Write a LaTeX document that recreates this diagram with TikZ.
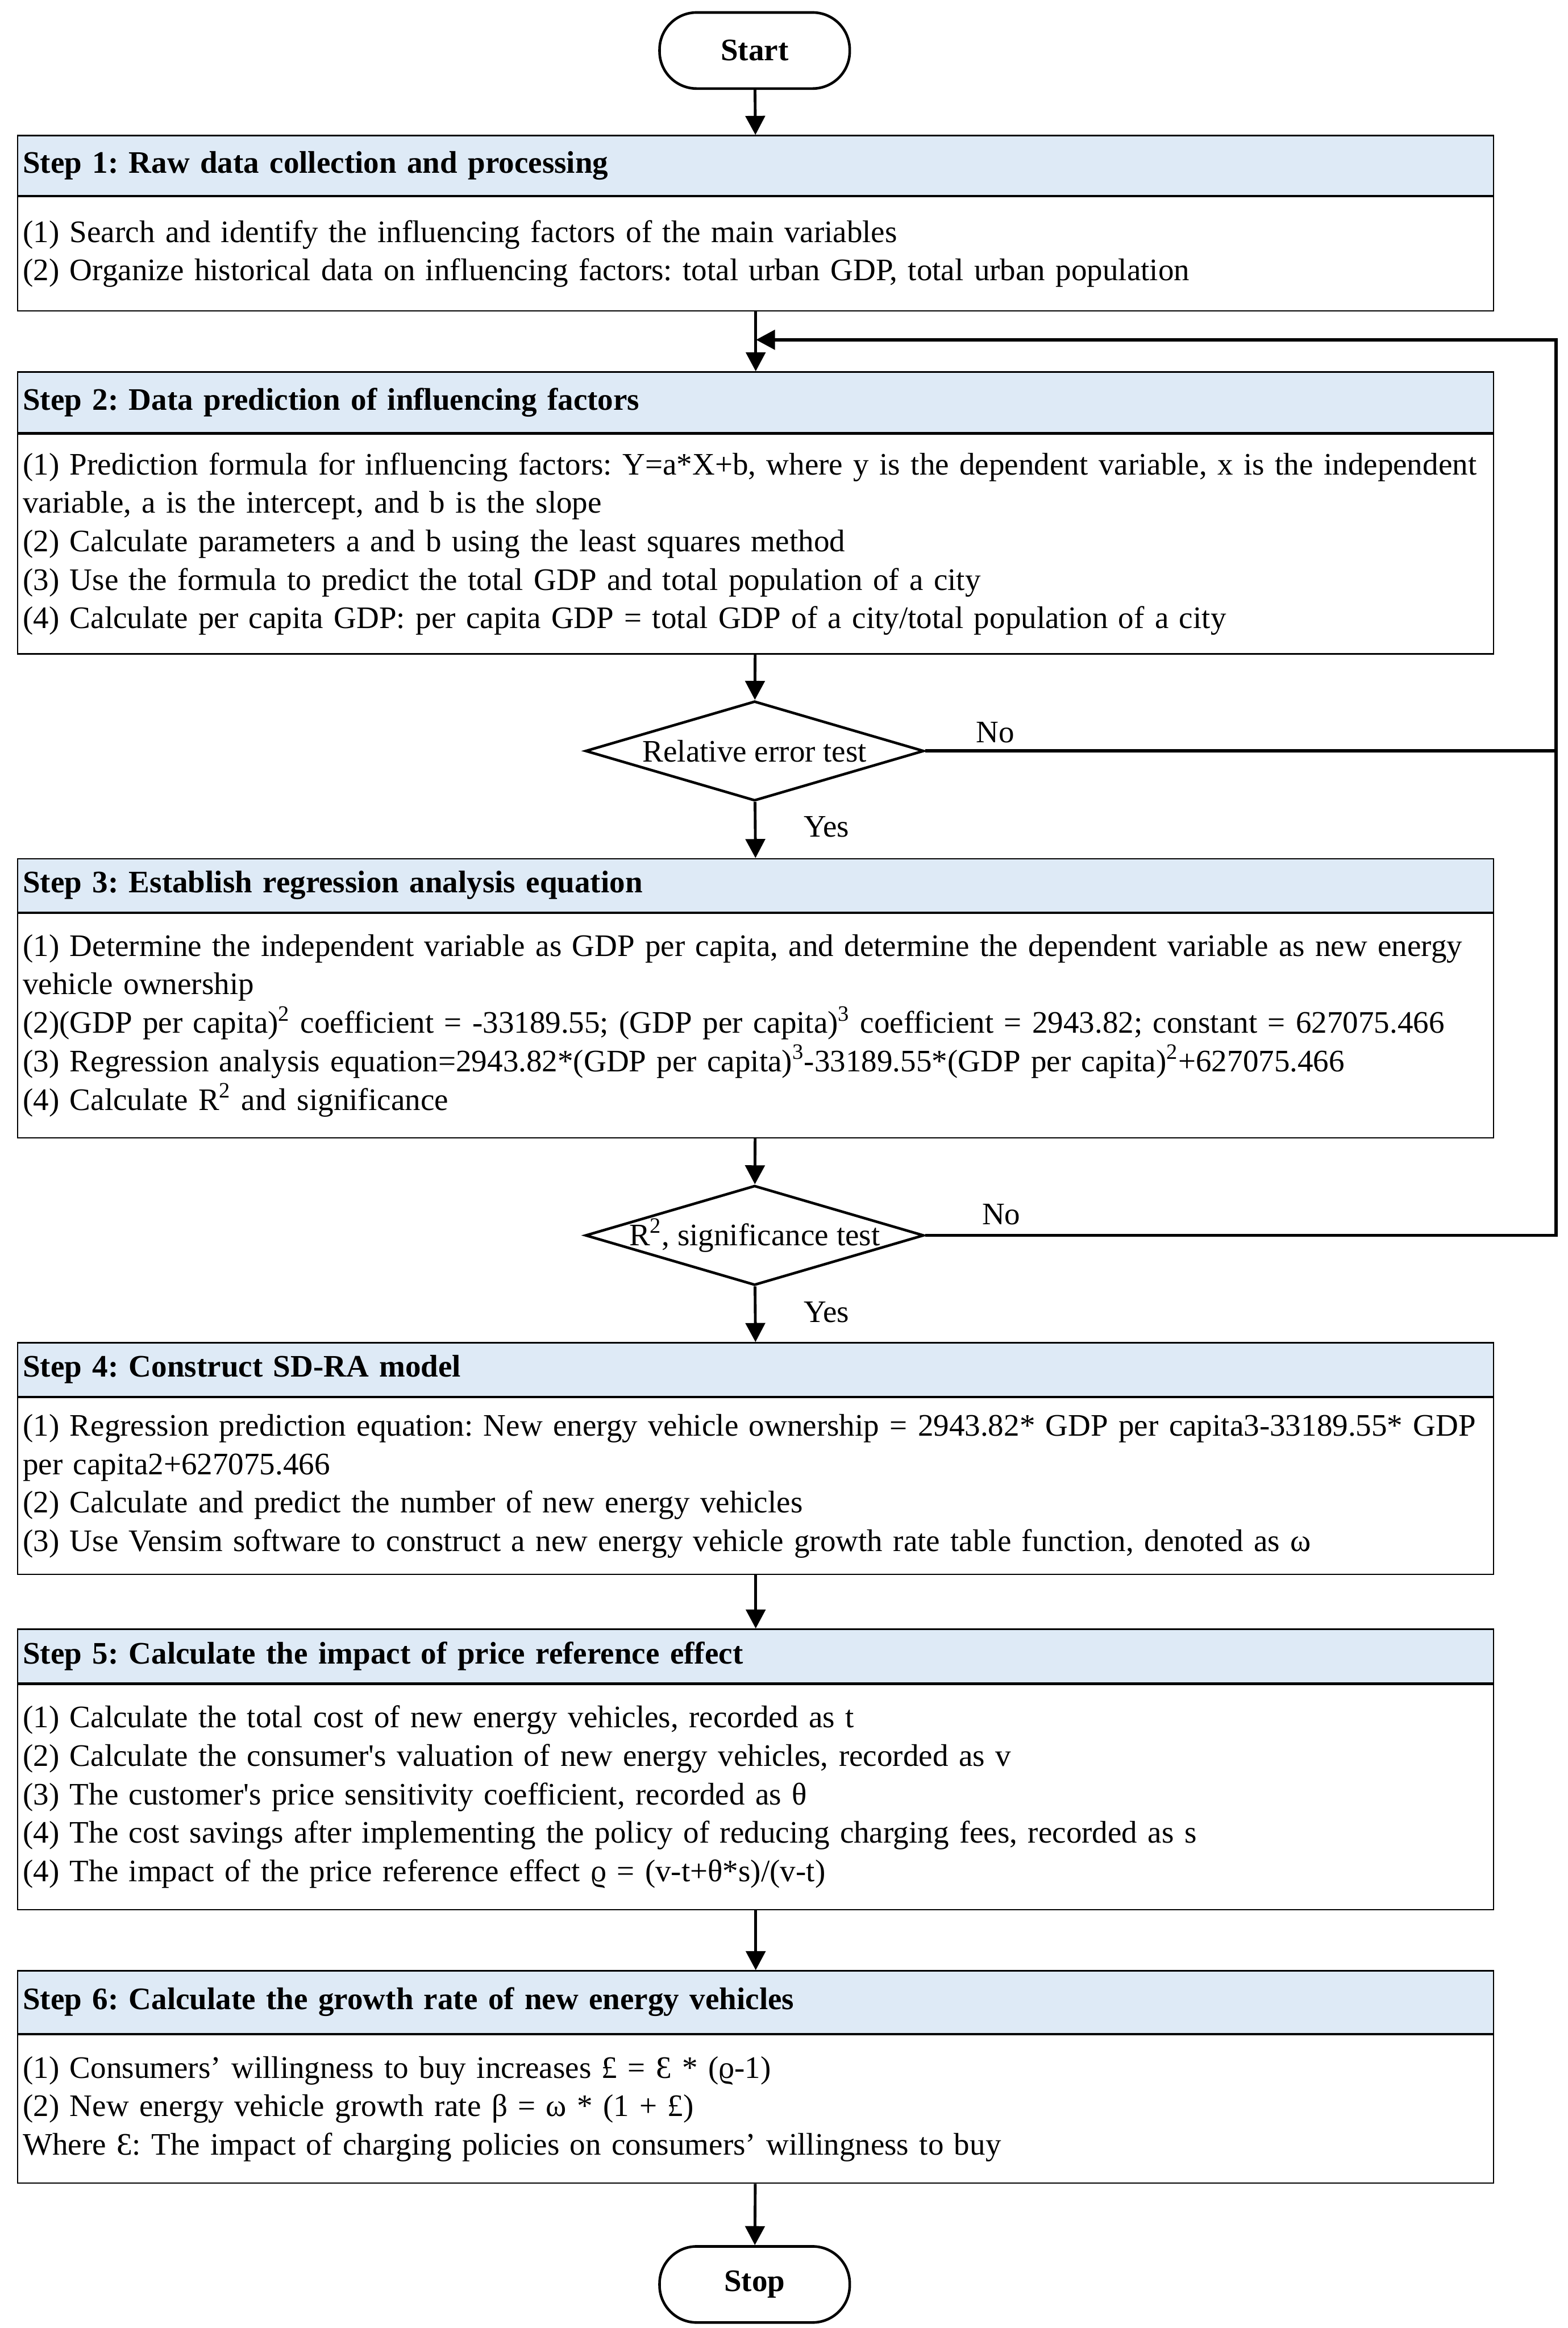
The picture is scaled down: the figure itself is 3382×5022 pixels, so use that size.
\documentclass[tikz,border=0pt]{standalone}
\usepackage{fontspec}
\setmainfont{Liberation Serif}
\usetikzlibrary{shapes.geometric,arrows.meta,positioning}
\definecolor{headblue}{HTML}{DEEAF6}
\newcommand{\txt}{\fontsize{19.2pt}{23.6pt}\selectfont\frenchspacing\hyphenpenalty=10000 }
\tikzset{
  head/.style={draw, fill=headblue, line width=0.8pt, anchor=north west,
    text width=31.6cm, inner xsep=0.11cm, inner ysep=0pt, align=left, font=\txt\bfseries},
  body/.style={draw, line width=0.8pt, anchor=north west,
    text width=31.6cm, inner xsep=0.11cm, inner ysep=0pt, align=left, font=\txt},
  term/.style={draw, line width=1.6pt, rounded corners=0.8cm, minimum width=4.1cm,
    minimum height=1.64cm, font=\txt\bfseries},
  test/.style={draw, diamond, line width=1.6pt, minimum width=7.3cm,
    minimum height=2.15cm, inner sep=0pt, font=\txt},
  every label/.style={font=\txt},
  lbl/.style={anchor=base west, inner sep=0pt, font=\txt},
  flow/.style={line width=1.7pt, ->},
  loop/.style={line width=2pt},
}
\begin{document}
\begin{tikzpicture}[>={Triangle[length=0.41cm,width=0.42cm]}, x=0.01cm, y=-0.01cm]
    \useasboundingbox (0,0) rectangle (3382,5022);

    % Start
    \node[term] (start) at (1628,109) {Start};

    % Step 1
    \node[head, minimum height=1.29cm] (h1) at (37,291) {Step 1: Raw data collection and processing};
    \node[body, minimum height=2.46cm] (b1) at (h1.south west) {(1) Search and identify the influencing factors of the main variables\\
        (2) Organize historical data on influencing factors: total urban GDP, total urban population};

    % Step 2
    \node[head, minimum height=1.31cm] (h2) at (37,801) {Step 2: Data prediction of influencing factors};
    \node[body, minimum height=4.74cm] (b2) at (h2.south west) {(1) Prediction formula for influencing factors: Y=a*X+b, where y is the dependent variable, x is the independent\\
        variable, a is the intercept, and b is the slope\\
        (2) Calculate parameters a and b using the least squares method\\
        (3) Use the formula to predict the total GDP and total population of a city\\
        (4) Calculate per capita GDP: per capita GDP = total GDP of a city/total population of a city};

    % Test 1
    \node[test, label={center:Relative error test}] (d1) at (1628,1620) {};

    % Step 3
    \node[head, minimum height=1.15cm] (h3) at (37,1851) {Step 3: Establish regression analysis equation};
    \node[body, minimum height=4.84cm] (b3) at (h3.south west) {(1) Determine the independent variable as GDP per capita, and determine the dependent variable as new energy\\
        vehicle ownership\\
        (2)(GDP per capita)\textsuperscript{2} coefficient = -33189.55; (GDP per capita)\textsuperscript{3} coefficient = 2943.82; constant = 627075.466\\
        (3) Regression analysis equation=2943.82*(GDP per capita)\textsuperscript{3}-33189.55*(GDP per capita)\textsuperscript{2}+627075.466\\
        (4) Calculate R\textsuperscript{2} and significance};

    % Test 2
    \node[test, label={center:R\textsuperscript{2}, significance test}] (d2) at (1628,2665) {};

    % Step 4
    \node[head, minimum height=1.16cm] (h4) at (37,2895) {Step 4: Construct SD-RA model};
    \node[body, minimum height=3.81cm] (b4) at (h4.south west) {(1) Regression prediction equation: New energy vehicle ownership = 2943.82* GDP per capita3-33189.55* GDP\\
        per capita2+627075.466\\
        (2) Calculate and predict the number of new energy vehicles\\
        (3) Use Vensim software to construct a new energy vehicle growth rate table function, denoted as ω};

    % Step 5
    \node[head, minimum height=1.16cm] (h5) at (37,3513) {Step 5: Calculate the impact of price reference effect};
    \node[body, minimum height=4.86cm] (b5) at (h5.south west) {(1) Calculate the total cost of new energy vehicles, recorded as t\\
        (2) Calculate the consumer\textquotesingle s valuation of new energy vehicles, recorded as v\\
        (3) The customer\textquotesingle s price sensitivity coefficient, recorded as θ\\
        (4) The cost savings after implementing the policy of reducing charging fees, recorded as s\\
        (4) The impact of the price reference effect ϱ = (v-t+θ*s)/(v-t)};

    % Step 6
    \node[head, minimum height=1.35cm] (h6) at (37,4250) {Step 6: Calculate the growth rate of new energy vehicles};
    \node[body, minimum height=3.20cm] (b6) at (h6.south west) {(1) Consumers’ willingness to buy increases £ = Ɛ * (ϱ-1)\\
        (2) New energy vehicle growth rate β = ω * (1 + £)\\
        Where Ɛ: The impact of charging policies on consumers’ willingness to buy};

    % Stop
    \node[term] (stop) at (1628,4928) {Stop};

    % Arrows
    \draw[flow] (start) -- (h1);
    \draw[flow] (b1) -- (h2);
    \draw[flow] (b2) -- (d1);
    \draw[flow] (d1) -- (h3);
    \draw[flow] (b3) -- (d2);
    \draw[flow] (d2) -- (h4);
    \draw[flow] (b4) -- (h5);
    \draw[flow] (b5) -- (h6);
    \draw[flow] (b6) -- (stop);

    % Feedback
    \coordinate (fbtop) at (3357,733);
    \coordinate (join) at (1631,733);
    \draw[loop, ->] (d1.east) -| (fbtop) -- (join);
    \draw[loop] (d2.east) -| (fbtop);

    % Labels
    \node[lbl] (no1) at (2105,1602) {No};
    \node[lbl] (yes1) at (1733,1805) {Yes};
    \node[lbl] (no2) at (2118,2642) {No};
    \node[lbl] (yes2) at (1733,2853) {Yes};
\end{tikzpicture}
\end{document}
